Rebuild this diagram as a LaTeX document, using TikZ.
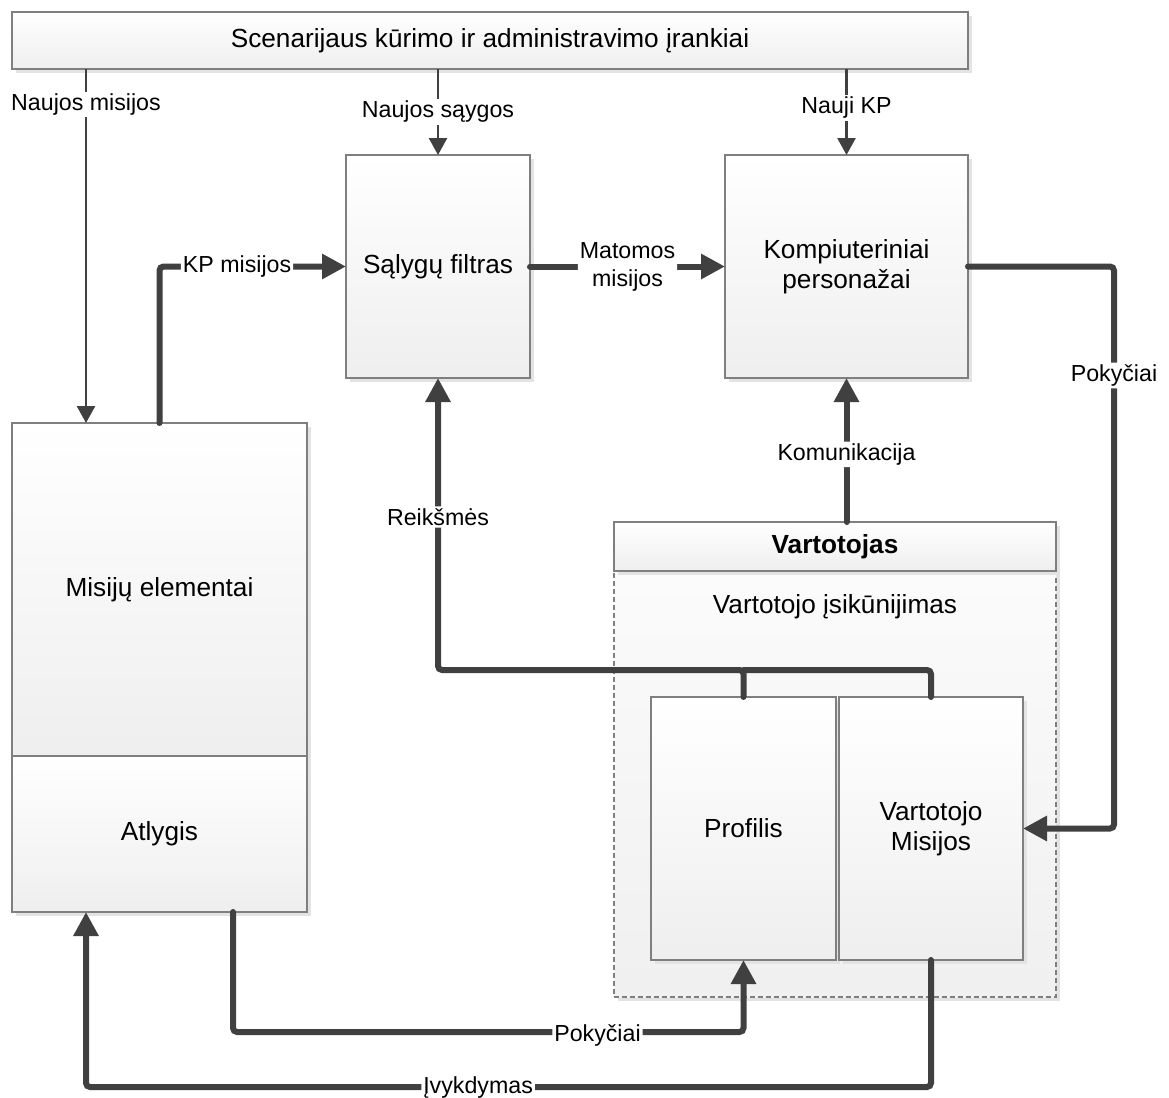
\documentclass[tikz,border=0pt]{standalone}
\usepackage{fontspec}
\setmainfont{Liberation Sans}
\usetikzlibrary{arrows.meta,shadows}
\definecolor{linec}{HTML}{404040}
\definecolor{edgec}{HTML}{7F7F7F}
\begin{document}
\begin{tikzpicture}[x=1pt,y=-1pt,
  txt/.style={font=\fontsize{23.2}{28}\selectfont},
  boxtxt/.style={font=\fontsize{26.2}{30}\selectfont},
  boxshadow/.style={general shadow={fill=gray!22, shadow xshift=4pt, shadow yshift=-4pt}},
  box/.style={draw=edgec, line width=1.2pt, top color=white, bottom color=gray!13,
    inner sep=0pt, outer sep=0pt, align=center, boxtxt, boxshadow},
  thickline/.style={draw=linec, line width=6pt, rounded corners=4pt, line cap=round},
  thickarrow/.style={thickline, -{Triangle[length=24pt,width=24pt]}},
  thinarrow/.style={draw=linec, line width=2.5pt, -{Triangle[length=17pt,width=18pt]}},
  lab/.style={fill=white, inner sep=2pt, txt, align=center}]
\useasboundingbox (0,0) rectangle (1169,1097);

% top tool bar
\node[box, minimum width=956pt, minimum height=57pt] (top) at (490,40.5)
  {Scenarijaus kūrimo ir administravimo įrankiai};

% filter and NPC boxes
\node[box, minimum width=184pt, minimum height=223pt] (filt) at (438,266.5) {Sąlygų filtras};
\node[box, minimum width=243pt, minimum height=223pt] (kp) at (846.5,266.5)
  {Kompiuteriniai\\personažai};

% mission elements
\node[box, minimum width=295pt, minimum height=333pt] (mis) at (159.5,589.5) {Misijų elementai};
\node[box, minimum width=295pt, minimum height=156pt] (atl) at (159.5,834) {Atlygis};

% user container
\node[draw=edgec, line width=1.2pt, dash pattern=on 5pt off 3pt, top color=gray!3, bottom color=gray!12,
  minimum width=442pt, minimum height=426pt, inner sep=0pt, outer sep=0pt, boxshadow] (vcont) at (835,784) {};
\node[box, minimum width=442pt, minimum height=49pt, font=\fontsize{26.2}{30}\selectfont\bfseries] (vhead) at (835,546.5) {Vartotojas};
\node[boxtxt] (vemb) at (835,607) {Vartotojo įsikūnijimas};
\node[box, minimum width=185pt, minimum height=263pt] (prof) at (743.5,828.5) {Profilis};
\node[box, minimum width=184pt, minimum height=263pt] (vmis) at (931,828.5) {Vartotojo\\Misijos};

% helper points
\coordinate (nm) at ([xshift=74pt]mis.north west);
\coordinate (pk) at ([xshift=-74pt]atl.south east);
\coordinate (iv) at ([xshift=74pt]atl.south west);
\coordinate (jn) at ([yshift=27pt]prof.north);

% thin arrows from the tool bar
\draw[thinarrow] (nm |- top.south) -- (nm) node[lab, pos=0.1]{Naujos misijos};
\draw[thinarrow] (filt.north |- top.south) -- (filt.north) node[lab, midway]{Naujos sąygos};
\draw[thinarrow] (kp.north |- top.south) -- (kp.north) node[lab, pos=0.45]{Nauji KP};

% thick connectors
\draw[thickarrow] (mis.north) |- (filt.west) node[lab, pos=0.708]{KP misijos};
\draw[thickarrow] (filt.east) -- (kp.west) node[lab, midway]{Matomos\\misijos};
\draw[thickarrow] (kp.east) -- ([xshift=146pt]kp.east) |- (vmis.east) node[lab, pos=0.097]{Pokyčiai};
\draw[thickarrow] (kp.south |- vhead.north) -- (kp.south) node[lab, pos=0.47]{Komunikacija};
\draw[thickline] (vmis.north) |- (jn);
\draw[thickarrow] (prof.north) -- (jn) -| (filt.south) node[lab, pos=0.762]{Reikšmės};
\draw[thickarrow] (pk) -- ([yshift=-120pt]pk) -| (prof.south) node[lab, pos=0.357, yshift=-3pt]{Pokyčiai};
\draw[thickarrow] (vmis.south) -- ([yshift=-127pt]vmis.south) -| (iv) node[lab, pos=0.268]{Įvykdymas};
\end{tikzpicture}
\end{document}
